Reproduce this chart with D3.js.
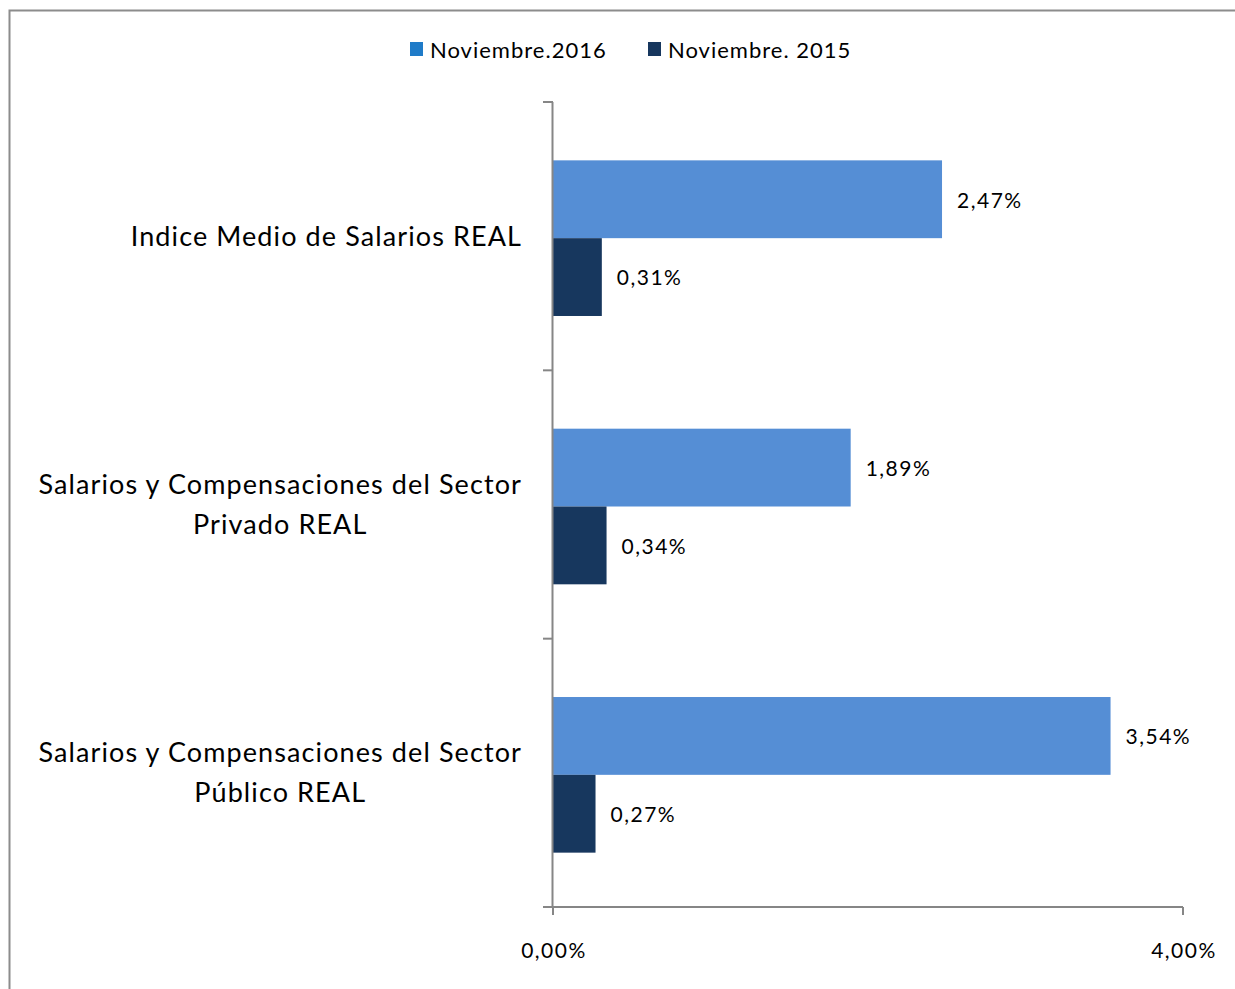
<!DOCTYPE html>
<html><head><meta charset="utf-8">
<script src="https://cdn.jsdelivr.net/npm/d3@7"></script>
<style>html,body{margin:0;padding:0;background:#fff;}svg{display:block;font-family:Lato, "Open Sans", sans-serif;}</style>
</head><body>
<script>
const categories = [
  ["Indice Medio de Salarios REAL"],
  ["Salarios y Compensaciones del Sector", "Privado REAL"],
  ["Salarios y Compensaciones del Sector", "Público REAL"]
];
const seriesNames = ["Noviembre.2016", "Noviembre. 2015"];
const values2016 = [2.47, 1.89, 3.54];
const values2015 = [0.31, 0.34, 0.27];
const xTicks = [0, 4];
const barColors = ["#558ED5", "#17375E"];
const legendColors = ["#1F7BC8", "#17375E"];

const W = 1235, H = 989;
const svg = d3.select("body").append("svg").attr("width", W).attr("height", H);

// outer border
svg.append("rect").attr("x", 9.5).attr("y", 10.5).attr("width", W + 10).attr("height", H + 10)
  .attr("fill", "none").attr("stroke", "#8c8c8c").attr("stroke-width", 2);

const x = d3.scaleLinear().domain([0, 4]).range([553, 1183]);
const y0 = d3.scaleBand().domain(d3.range(categories.length)).range([102, 907]).paddingInner(0.42).paddingOuter(0.21);
const y1 = d3.scaleBand().domain([0, 1]).range([0, y0.bandwidth()]);

const fmt = v => d3.format(".2f")(v).replace(".", ",") + "%";

// bars
const data = categories.map((c, i) => ({i, vals: [values2016[i], values2015[i]]}));
const g = svg.append("g");
data.forEach(d => {
  d.vals.forEach((v, s) => {
    const yy = y0(d.i) + y1(s) + 2;
    g.append("rect").attr("x", x(0)).attr("y", yy)
      .attr("width", x(v) - x(0)).attr("height", y1.bandwidth())
      .attr("fill", barColors[s]);
    g.append("text").attr("x", x(v) + 15).attr("y", yy + y1.bandwidth() / 2 + 1)
      .attr("dy", "0.35em").attr("font-size", 21).attr("letter-spacing", 1.5)
      .attr("fill", "#000").text(fmt(v));
  });
});

// y axis
const axisColor = "#868686";
const yAx = svg.append("g");
yAx.append("line").attr("x1", 552.5).attr("x2", 552.5).attr("y1", 102).attr("y2", 907)
  .attr("stroke", axisColor).attr("stroke-width", 2);
d3.range(categories.length + 1).forEach(k => {
  const ty = 102 + k * (805 / categories.length);
  yAx.append("line").attr("x1", 543).attr("x2", 553).attr("y1", ty).attr("y2", ty)
    .attr("stroke", axisColor).attr("stroke-width", 2);
});

// x axis
const xAxG = svg.append("g").attr("transform", "translate(0,907)");
xAxG.append("line").attr("x1", 543).attr("x2", x(4)).attr("y1", 0).attr("y2", 0)
  .attr("stroke", axisColor).attr("stroke-width", 2);
xTicks.forEach(t => {
  xAxG.append("line").attr("x1", x(t)).attr("x2", x(t)).attr("y1", 0).attr("y2", 8)
    .attr("stroke", axisColor).attr("stroke-width", 2);
  xAxG.append("text").attr("x", x(t) + 1).attr("y", 51).attr("text-anchor", "middle")
    .attr("font-size", 21).attr("letter-spacing", 1.5).attr("fill", "#000").text(fmt(t));
});

// category labels
const labelRight = 522;
const lineH = 40;
categories.forEach((lines, i) => {
  const cy = 102 + (i + 0.5) * (805 / categories.length);
  const grp = svg.append("g");
  const texts = lines.map((ln, j) => grp.append("text")
    .attr("y", cy + (j - (lines.length - 1) / 2) * lineH)
    .attr("dy", "0.35em").attr("font-size", 27).attr("letter-spacing", 1.1)
    .attr("fill", "#000").text(ln));
  const maxW = d3.max(texts, t => t.node().getComputedTextLength());
  texts.forEach(t => t.attr("x", labelRight - maxW / 2).attr("text-anchor", "middle"));
});

// legend
const legendX = [410, 648];
seriesNames.forEach((n, s) => {
  svg.append("rect").attr("x", legendX[s]).attr("y", 42).attr("width", 13).attr("height", 14)
    .attr("fill", legendColors[s]);
  svg.append("text").attr("x", legendX[s] + 20).attr("y", 50).attr("dy", "0.35em")
    .attr("font-size", 22).attr("letter-spacing", 1).attr("fill", "#000").text(n);
});
</script>
</body></html>
